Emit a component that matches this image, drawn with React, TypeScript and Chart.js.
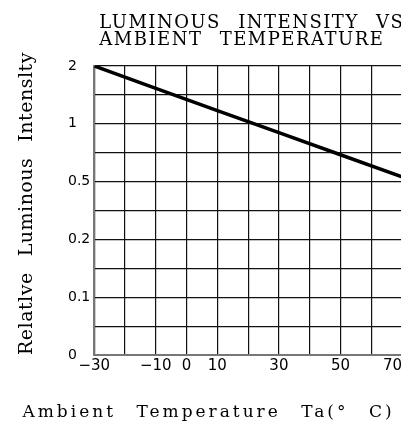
import React, { useEffect, useRef } from "react";
import { Chart, registerables } from "chart.js";

Chart.register(...registerables);

// ---- data ----
const temperatures = [-30, -10, 10, 30, 50, 70];
const relativeIntensity = [2.0, 1.53, 1.17, 0.9, 0.69, 0.53];
const yTickValues = [0, 0.1, 0.2, 0.5, 1, 2];
const yTickLabels = ["0", "0.1", "0.2", "0.5", "1", "2"];
const xTickValues = [-30, -10, 0, 10, 30, 50, 70];
const titleLines = ["LUMINOUS INTENSITY VS", "AMBIENT TEMPERATURE"];
const xTitle = "Ambient Temperature Ta(° C)";
const yTitle = "Relatlve Luminous Intenslty";

// the y axis is a stepped axis: each labelled value sits two grid rows above the previous
const ROWS_PER_TICK = 2;
function valueToRow(v: number): number {
  for (let i = 0; i < yTickValues.length - 1; i++) {
    const a = yTickValues[i];
    const b = yTickValues[i + 1];
    if (v <= b || i === yTickValues.length - 2) {
      const frac = a <= 0 ? (v - a) / (b - a) : Math.log(v / a) / Math.log(b / a);
      return ROWS_PER_TICK * (i + frac);
    }
  }
  return 0;
}

const fmtX = (v: number) => (v < 0 ? "\u2212" + Math.abs(v) : String(v));

const textPlugin = {
  id: "chartTexts",
  afterDraw(chart: any) {
    const { ctx, chartArea } = chart;
    const xScale = chart.scales.x;
    ctx.save();
    ctx.fillStyle = "#000";
    const spacing = (ls: number, ws: number) => {
      (ctx as any).letterSpacing = ls + "px";
      (ctx as any).wordSpacing = ws + "px";
    };
    ctx.textBaseline = "alphabetic";

    // x tick labels, kept inside the plot's right edge
    ctx.font = '15px "DejaVu Sans"';
    spacing(0, 0);
    ctx.textAlign = "center";
    xTickValues.forEach((v) => {
      const label = fmtX(v);
      const w = ctx.measureText(label).width;
      const px = Math.min(xScale.getPixelForValue(v), chartArea.right - w / 2);
      ctx.fillText(label, px, chartArea.bottom + 15);
    });

    // title
    ctx.font = '18px "DejaVu Serif"';
    spacing(1.5, 10);
    ctx.textAlign = "left";
    ctx.fillText(titleLines[0], chartArea.left + 5, 20);
    ctx.fillText(titleLines[1], chartArea.left + 5, 37);

    // x title
    ctx.font = '17px "DejaVu Serif"';
    spacing(3, 12);
    ctx.textAlign = "center";
    ctx.fillText(xTitle, chart.width / 2, 409);

    // y title
    ctx.translate(24, chartArea.bottom);
    ctx.rotate(-Math.PI / 2);
    ctx.font = '19px "DejaVu Serif"';
    spacing(0.5, 9.5);
    ctx.textAlign = "left";
    ctx.fillText(yTitle, 0, 0);
    ctx.restore();
  },
};

export default function App() {
  const ref = useRef<HTMLCanvasElement>(null);
  useEffect(() => {
    document.documentElement.style.overflow = "hidden";
    const canvas = ref.current!;
    const chart = new Chart(canvas, {
      type: "line",
      data: {
        datasets: [
          {
            data: temperatures.map((t, i) => ({ x: t, y: valueToRow(relativeIntensity[i]) })),
            borderColor: "#000",
            borderWidth: 3.5,
            pointRadius: 0,
            tension: 0,
            fill: false,
          },
        ],
      },
      options: {
        animation: false,
        responsive: false,
        devicePixelRatio: 1,
        layout: { padding: { top: 58, left: 60, right: 7, bottom: 66 } },
        plugins: { legend: { display: false }, title: { display: false }, tooltip: { enabled: false } },
        scales: {
          x: {
            type: "linear",
            min: -30,
            max: 70,
            ticks: { stepSize: 10, display: false },
            grid: { color: "#111", lineWidth: 1.2, drawTicks: false },
            border: { display: true, color: "#777", width: 2 },
          },
          y: {
            type: "linear",
            min: 0,
            max: ROWS_PER_TICK * (yTickValues.length - 1),
            ticks: {
              stepSize: 1,
              autoSkip: false,
              padding: 2,
              crossAlign: "far",
              color: "#000",
              font: { family: "DejaVu Sans", size: 14 },
              callback: (v: any) => {
                const n = Number(v);
                return n % ROWS_PER_TICK === 0 ? yTickLabels[n / ROWS_PER_TICK] : "";
              },
            },
            grid: { color: "#111", lineWidth: 1.2, drawTicks: false },
            border: { display: true, color: "#777", width: 2 },
          },
        },
      },
      plugins: [textPlugin],
    });
    return () => chart.destroy();
  }, []);
  return <canvas ref={ref} width={401} height={413} style={{ display: "block" }} />;
}
